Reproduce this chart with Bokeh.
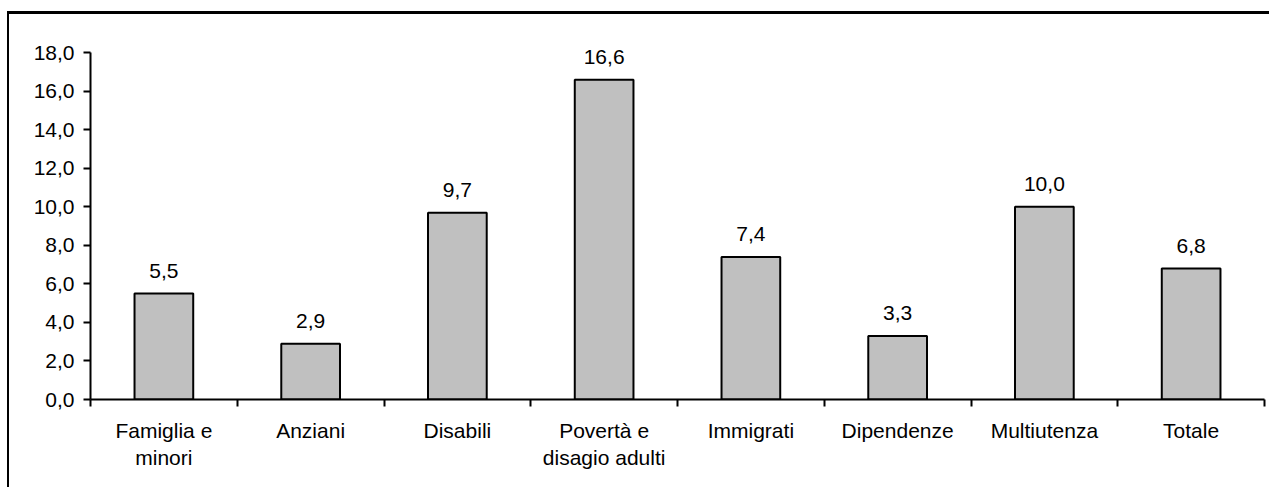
from bokeh.plotting import figure
from bokeh.models import FixedTicker, ColumnDataSource
from bokeh.embed import file_html
from bokeh.resources import INLINE
from bokeh.core.properties import value

categories = ["Famiglia e\nminori", "Anziani", "Disabili", "Povertà e\ndisagio adulti",
              "Immigrati", "Dipendenze", "Multiutenza", "Totale"]
values = [5.5, 2.9, 9.7, 16.6, 7.4, 3.3, 10.0, 6.8]
y_ticks = [0, 2, 4, 6, 8, 10, 12, 14, 16, 18]
y_tick_labels = ["0,0", "2,0", "4,0", "6,0", "8,0", "10,0", "12,0", "14,0", "16,0", "18,0"]

FONT = "Liberation Sans"
FS = "21px"

n = len(categories)
centers = [i + 0.5 for i in range(n)]
value_labels = [("%.1f" % v).replace(".", ",") for v in values]

src = ColumnDataSource(dict(x=centers, top=values, lab=value_labels))

p = figure(width=1262, height=476, x_range=(0, n), y_range=(0, 19),
           output_backend="svg", toolbar_location=None,
           min_border_left=81, min_border_right=7, min_border_top=19, min_border_bottom=91)
p.styles = {"border-left": "2px solid black", "border-top": "3px solid black",
            "margin-top": "11px", "margin-left": "7px"}

p.outline_line_color = None
p.grid.grid_line_color = None
p.background_fill_color = "white"
p.border_fill_color = "white"

p.vbar(x="x", top="top", width=0.4, bottom=0, source=src,
       fill_color="#C0C0C0", line_color="black", line_width=2)
p.text(x="x", y="top", text="lab", source=src, text_align="center",
       text_baseline="alphabetic", y_offset=-23,
       text_font=value(FONT), text_font_size=FS, text_color="black")

# x axis
xa = p.xaxis[0]
xa.ticker = FixedTicker(ticks=centers, minor_ticks=list(range(n + 1)))
xa.major_label_overrides = {c: lab for c, lab in zip(centers, categories)}
xa.major_tick_line_color = None
xa.major_tick_out = 0
xa.major_tick_in = 0
xa.minor_tick_out = 7
xa.minor_tick_in = 0
xa.minor_tick_line_color = "black"
xa.minor_tick_line_width = 2
xa.axis_line_color = "black"
xa.axis_line_width = 2
xa.major_label_standoff = 12
xa.major_label_text_font = FONT
xa.major_label_text_font_size = FS
xa.major_label_text_color = "black"
xa.major_label_text_line_height = 1.2

# y axis
ya = p.yaxis[0]
ya.ticker = FixedTicker(ticks=y_ticks, minor_ticks=[])
ya.bounds = (0, 18)
ya.major_label_overrides = {t: lab for t, lab in zip(y_ticks, y_tick_labels)}
ya.major_tick_out = 7
ya.major_tick_in = 0
ya.major_tick_line_width = 2
ya.major_tick_line_color = "black"
ya.minor_tick_line_color = None
ya.axis_line_color = "black"
ya.axis_line_width = 2
ya.major_label_standoff = 9
ya.major_label_text_font = FONT
ya.major_label_text_font_size = FS
ya.major_label_text_color = "black"

open("out.html", "w").write(file_html(p, INLINE))
